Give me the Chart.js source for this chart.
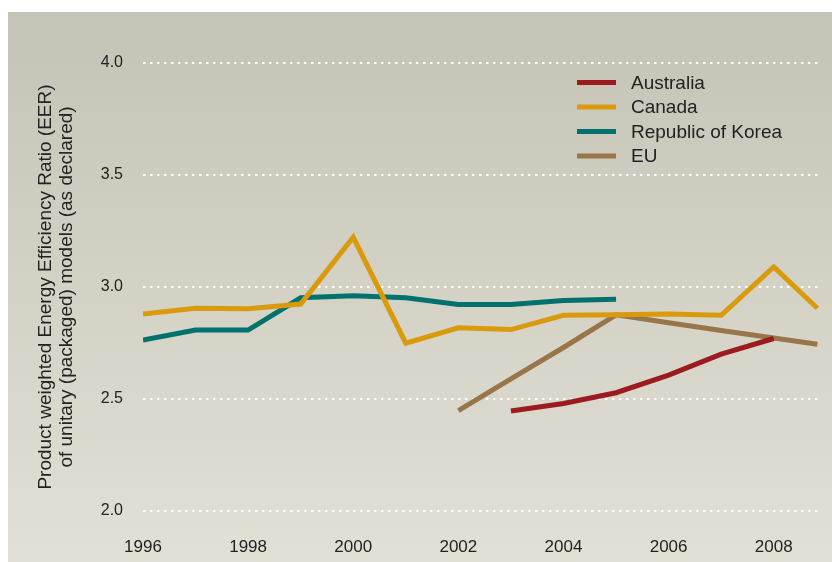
<!DOCTYPE html>
<html>
<head>
<meta charset="utf-8">
<script src="https://cdn.jsdelivr.net/npm/chart.js@4.4.1/dist/chart.umd.min.js"></script>
<style>
  html, body { margin: 0; padding: 0; background: #ffffff; }
  #wrap { width: 832px; height: 562px; position: relative; }
</style>
</head>
<body>
<div id="wrap"><canvas id="c" width="832" height="562"></canvas></div>
<script>
// ---- Data ----
const years = [1996, 1997, 1998, 1999, 2000, 2001, 2002, 2003, 2004, 2005, 2006, 2007, 2008, 2008.83];
const australia = [null, null, null, null, null, null, null, 2.446, 2.48, 2.528, 2.607, 2.70, 2.77, null];
const canada    = [2.879, 2.905, 2.903, 2.924, 3.222, 2.749, 2.818, 2.81, 2.874, 2.876, 2.879, 2.874, 3.09, 2.905];
const korea     = [2.763, 2.808, 2.808, 2.952, 2.961, 2.952, 2.922, 2.922, 2.94, 2.945, null, null, null, null];
const eu        = [null, null, null, null, null, null, 2.448, 2.59, 2.73, 2.876, 2.84, 2.806, 2.772, 2.744];
const seriesNames = ["Australia", "Canada", "Republic of Korea", "EU"];
const xTickLabels = [1996, 1998, 2000, 2002, 2004, 2006, 2008];
const yTickLabels = [2.0, 2.5, 3.0, 3.5, 4.0];
const yTitle = ["Product weighted Energy Efficiency Ratio (EER)", "of unitary (packaged) models (as declared)"];

const colors = ["#9b1b21", "#d99a0d", "#00716c", "#98764a"];
const seriesValues = [australia, canada, korea, eu];

function toPoints(vals) {
  return years.map((x, i) => ({ x: x, y: vals[i] }));
}

const datasets = seriesValues.map((vals, i) => ({
  label: seriesNames[i],
  data: toPoints(vals),
  borderColor: colors[i],
  backgroundColor: colors[i],
  borderWidth: 5,
  pointRadius: 0,
  pointHoverRadius: 0,
  tension: 0,
  spanGaps: false,
  borderCapStyle: 'butt',
  borderJoinStyle: 'miter',
  fill: false
}));

const bgPlugin = {
  id: 'bgPanel',
  beforeDraw(chart) {
    const ctx = chart.ctx;
    ctx.save();
    ctx.fillStyle = '#ffffff';
    ctx.fillRect(0, 0, chart.width, chart.height);
    const g = ctx.createLinearGradient(0, 12, 0, chart.height);
    g.addColorStop(0, '#c4c3b5');
    g.addColorStop(0.5, '#d3d2c5');
    g.addColorStop(1, '#e2e0d5');
    ctx.fillStyle = g;
    ctx.fillRect(8, 12, chart.width - 8, chart.height - 12);
    ctx.restore();
  }
};

const legendPlugin = {
  id: 'insideLegend',
  afterDatasetsDraw(chart) {
    const ctx = chart.ctx;
    ctx.save();
    ctx.font = '19px "Liberation Sans", Arial, sans-serif';
    ctx.textBaseline = 'middle';
    ctx.textAlign = 'left';
    chart.data.datasets.forEach((ds, i) => {
      const y = 82.5 + i * 24.5;
      ctx.fillStyle = ds.borderColor;
      ctx.fillRect(577, y - 2.5, 39, 5);
      ctx.fillStyle = '#222222';
      ctx.fillText(ds.label, 631, y + 1);
    });
    ctx.restore();
  }
};

new Chart(document.getElementById('c'), {
  type: 'line',
  data: { datasets: datasets },
  plugins: [bgPlugin, legendPlugin],
  options: {
    responsive: false,
    animation: false,
    devicePixelRatio: 1,
    layout: { padding: { left: 35, top: 63, right: 12, bottom: 0 } },
    plugins: {
      legend: { display: false },
      tooltip: { enabled: false }
    },
    scales: {
      x: {
        type: 'linear',
        min: 1996,
        max: 2008.88,
        afterBuildTicks(scale) { scale.ticks = xTickLabels.map(v => ({ value: v })); },
        afterFit(scale) { scale.height = 51; },
        grid: { display: false, drawTicks: false },
        border: { display: false },
        ticks: {
          autoSkip: false,
          maxRotation: 0,
          padding: 26,
          color: '#222222',
          font: { family: '"Liberation Sans", Arial, sans-serif', size: 17 },
          callback: v => String(v)
        }
      },
      y: {
        type: 'linear',
        min: 2,
        max: 4,
        afterBuildTicks(scale) { scale.ticks = yTickLabels.map(v => ({ value: v })); },
        afterFit(scale) { scale.width = 108; },
        grid: { display: true, drawTicks: false, color: 'rgba(255,255,255,0.95)', lineWidth: 2 },
        border: { display: false, dash: [2.5, 4.5] },
        ticks: {
          padding: 20,
          color: '#222222',
          font: { family: '"Liberation Sans", Arial, sans-serif', size: 16 },
          callback: v => Number(v).toFixed(1)
        },
        title: {
          display: true,
          text: yTitle,
          color: '#222222',
          padding: 0,
          font: { family: '"Liberation Sans", Arial, sans-serif', size: 19, lineHeight: 1.1 }
        }
      }
    }
  }
});
</script>
</body>
</html>
